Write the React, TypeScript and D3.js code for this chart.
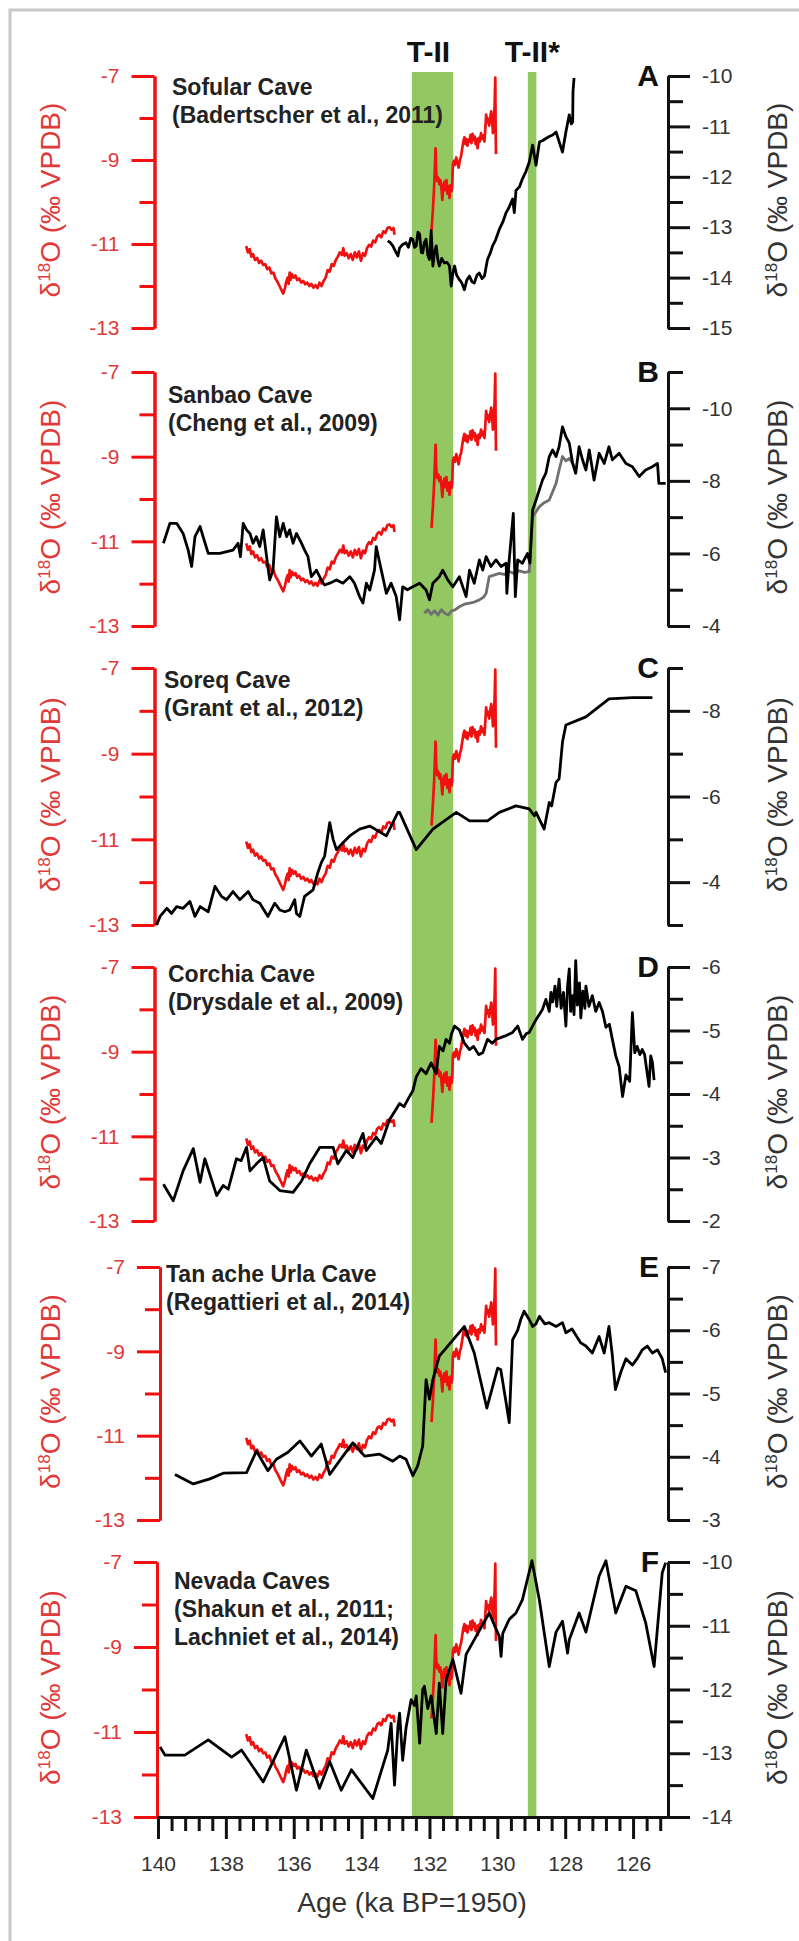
import React, { useEffect, useRef } from 'react';
import * as d3 from 'd3';

type Pt = [number, number];

const FONT = '"Liberation Sans", Arial, Helvetica, sans-serif';
const RED = '#f01010';
const RED_TEXT = '#e03a3a';

// age axis (ka BP)
const ageTicks = [140, 138, 136, 134, 132, 130, 128, 126];
const leftTicks = [-7, -8, -9, -10, -11, -12, -13];
const leftLabels = [-7, -9, -11, -13];
const bandT2: Pt = [132.52, 131.3];
const bandT2star: Pt = [129.1, 128.85];

// reference red record (left axis), two segments
const redEarly: Pt[] = [[137.40,-11.05],[137.35,-11.20],[137.30,-11.12],[137.25,-11.30],[137.20,-11.24],[137.14,-11.38],[137.08,-11.33],[137.02,-11.45],[136.96,-11.40],[136.90,-11.50],[136.84,-11.48],[136.78,-11.60],[136.72,-11.56],[136.66,-11.70],[136.60,-11.68],[136.54,-11.82],[136.48,-11.90],[136.42,-12.00],[136.36,-12.10],[136.31,-12.18],[136.26,-12.05],[136.22,-11.90],[136.18,-11.80],[136.15,-11.95],[136.12,-11.68],[136.09,-11.85],[136.05,-11.72],[136.00,-11.80],[135.95,-11.75],[135.90,-11.86],[135.84,-11.82],[135.78,-11.92],[135.72,-11.88],[135.66,-11.96],[135.60,-11.92],[135.54,-12.00],[135.48,-11.95],[135.42,-12.04],[135.36,-11.98],[135.30,-12.05],[135.24,-11.92],[135.18,-12.00],[135.12,-11.88],[135.06,-11.80],[135.00,-11.62],[134.94,-11.66],[134.88,-11.48],[134.82,-11.52],[134.76,-11.38],[134.70,-11.30],[134.64,-11.20],[134.58,-11.26],[134.54,-11.10],[134.50,-11.28],[134.44,-11.22],[134.38,-11.34],[134.32,-11.24],[134.26,-11.38],[134.20,-11.20],[134.14,-11.32],[134.08,-11.18],[134.02,-11.40],[133.96,-11.22],[133.90,-11.28],[133.84,-11.10],[133.78,-11.02],[133.72,-11.06],[133.66,-10.92],[133.60,-10.96],[133.54,-10.82],[133.48,-10.78],[133.42,-10.84],[133.36,-10.70],[133.30,-10.74],[133.24,-10.62],[133.18,-10.60],[133.12,-10.66],[133.06,-10.62],[133.03,-10.78]];
const redLate: Pt[] = [[131.94,-10.68],[131.90,-10.20],[131.86,-9.60],[131.82,-8.72],[131.80,-9.30],[131.77,-9.50],[131.74,-9.42],[131.71,-9.58],[131.68,-9.48],[131.65,-9.66],[131.62,-9.95],[131.59,-9.60],[131.56,-9.52],[131.53,-9.72],[131.50,-9.48],[131.47,-9.80],[131.44,-9.62],[131.41,-9.90],[131.38,-9.60],[131.35,-9.74],[131.33,-9.62],[131.31,-9.10],[131.28,-9.02],[131.25,-9.12],[131.21,-8.94],[131.18,-9.06],[131.14,-9.18],[131.10,-8.98],[131.07,-8.92],[131.03,-8.70],[131.00,-8.55],[130.97,-8.46],[130.94,-8.62],[130.91,-8.50],[130.88,-8.66],[130.85,-8.52],[130.82,-8.56],[130.79,-8.40],[130.76,-8.60],[130.73,-8.38],[130.70,-8.52],[130.67,-8.44],[130.64,-8.62],[130.61,-8.50],[130.58,-8.72],[130.55,-8.48],[130.52,-8.56],[130.48,-8.36],[130.45,-8.50],[130.42,-8.42],[130.38,-8.56],[130.35,-8.20],[130.33,-7.92],[130.30,-8.10],[130.27,-8.02],[130.24,-8.18],[130.21,-8.00],[130.18,-7.84],[130.15,-8.10],[130.13,-8.36],[130.11,-8.20],[130.08,-7.70],[130.06,-7.04],[130.05,-8.20],[130.04,-8.86]];

const sofularBlack: Pt[] = [[133.23,-13.27],[133.16,-13.30],[133.08,-13.37],[133.00,-13.48],[132.93,-13.57],[132.88,-13.41],[132.80,-13.35],[132.69,-13.31],[132.62,-13.40],[132.55,-13.22],[132.49,-13.24],[132.44,-13.40],[132.39,-13.37],[132.34,-13.10],[132.29,-13.14],[132.24,-13.50],[132.20,-13.51],[132.15,-13.30],[132.10,-13.24],[132.05,-13.55],[132.00,-13.64],[131.95,-13.07],[131.90,-13.77],[131.85,-13.50],[131.80,-13.37],[131.75,-13.66],[131.71,-13.77],[131.64,-13.62],[131.56,-13.71],[131.48,-13.70],[131.41,-13.77],[131.36,-14.17],[131.31,-13.90],[131.26,-13.77],[131.20,-13.95],[131.12,-14.04],[131.05,-14.10],[130.97,-14.24],[130.90,-14.05],[130.82,-13.97],[130.75,-14.08],[130.68,-14.11],[130.60,-13.95],[130.53,-13.91],[130.45,-14.02],[130.38,-13.97],[130.29,-13.64],[130.20,-13.50],[130.14,-13.37],[130.05,-13.25],[129.94,-13.04],[129.84,-12.90],[129.74,-12.71],[129.65,-12.60],[129.55,-12.44],[129.50,-12.71],[129.45,-12.27],[129.35,-12.20],[129.26,-12.04],[129.16,-11.90],[129.06,-11.71],[128.96,-11.37],[128.86,-11.77],[128.76,-11.31],[128.66,-11.28],[128.57,-11.24],[128.47,-11.20],[128.37,-11.17],[128.27,-11.11],[128.18,-11.30],[128.08,-11.51],[127.98,-11.11],[127.88,-10.77],[127.82,-10.95],[127.78,-10.91],[127.77,-10.31],[127.74,-10.04]];

const sanbaoBlack: Pt[] = [[139.84,-6.28],[139.65,-6.83],[139.45,-6.83],[139.26,-6.55],[139.11,-6.09],[139.01,-5.64],[138.91,-6.46],[138.76,-6.74],[138.67,-6.46],[138.52,-6.00],[138.18,-6.00],[137.79,-6.09],[137.64,-6.28],[137.57,-5.91],[137.49,-6.83],[137.39,-6.65],[137.29,-6.55],[137.20,-6.28],[137.10,-6.46],[137.00,-6.19],[136.90,-6.65],[136.80,-5.91],[136.71,-5.27],[136.61,-5.54],[136.51,-7.01],[136.41,-6.46],[136.31,-6.83],[136.21,-6.46],[136.12,-6.65],[136.02,-6.28],[135.92,-6.55],[135.77,-6.28],[135.68,-6.09],[135.58,-5.91],[135.48,-5.36],[135.33,-5.54],[135.19,-5.27],[135.09,-5.13],[134.94,-5.18],[134.74,-5.27],[134.55,-5.18],[134.35,-5.36],[134.21,-5.18],[134.06,-4.81],[133.96,-4.63],[133.86,-5.18],[133.76,-4.99],[133.62,-5.54],[133.57,-6.19],[133.42,-5.54],[133.27,-4.90],[133.13,-5.18],[132.98,-4.81],[132.88,-4.17],[132.79,-5.08],[132.65,-5.00],[132.49,-5.08],[132.29,-5.18],[132.10,-4.99],[132.00,-4.72],[131.90,-5.18],[131.71,-5.36],[131.61,-5.54],[131.46,-5.27],[131.31,-5.08],[131.12,-5.36],[130.92,-4.81],[130.82,-5.54],[130.68,-5.18],[130.53,-5.82],[130.43,-5.54],[130.33,-5.91],[130.19,-5.64],[130.04,-5.82],[129.89,-5.64],[129.74,-5.73],[129.72,-4.90],[129.65,-5.82],[129.53,-7.10],[129.47,-4.81],[129.40,-5.82],[129.26,-5.73],[129.11,-6.00],[129.04,-5.73],[128.96,-7.20],[128.86,-7.47],[128.67,-8.02],[128.57,-8.21],[128.47,-8.67],[128.37,-8.85],[128.27,-8.67],[128.18,-8.94],[128.08,-9.49],[127.98,-9.22],[127.88,-9.04],[127.78,-8.48],[127.69,-8.21],[127.59,-8.94],[127.49,-8.58],[127.39,-8.30],[127.29,-8.85],[127.15,-8.02],[127.00,-8.76],[126.85,-8.48],[126.71,-8.94],[126.61,-8.58],[126.41,-8.76],[126.21,-8.48],[126.02,-8.39],[125.82,-8.12],[125.63,-8.30],[125.43,-8.39],[125.28,-8.48],[125.24,-7.93],[125.04,-7.93]];
const sanbaoGray: Pt[] = [[132.15,-4.35],[132.05,-4.45],[131.95,-4.32],[131.85,-4.42],[131.75,-4.30],[131.65,-4.45],[131.55,-4.35],[131.45,-4.30],[131.35,-4.42],[131.26,-4.44],[131.12,-4.53],[130.97,-4.60],[130.82,-4.63],[130.68,-4.66],[130.53,-4.72],[130.40,-4.80],[130.33,-4.90],[130.24,-5.36],[130.10,-5.40],[129.94,-5.45],[129.80,-5.42],[129.65,-5.50],[129.50,-5.45],[129.35,-5.52],[129.20,-5.48],[129.06,-5.50],[128.96,-7.01],[128.86,-7.15],[128.76,-7.29],[128.62,-7.40],[128.47,-7.47],[128.37,-7.70],[128.27,-7.93],[128.18,-8.30],[128.08,-8.67],[127.98,-8.55],[127.88,-8.62],[127.78,-8.48],[127.74,-8.39]];

const soreqBlack: Pt[] = [[140.04,-3.00],[139.94,-3.20],[139.74,-3.39],[139.60,-3.27],[139.45,-3.43],[139.26,-3.39],[139.06,-3.55],[138.91,-3.20],[138.76,-3.43],[138.52,-3.31],[138.32,-3.90],[138.13,-3.67],[137.98,-3.59],[137.79,-3.78],[137.59,-3.59],[137.34,-3.78],[137.20,-3.59],[137.00,-3.51],[136.76,-3.20],[136.56,-3.51],[136.41,-3.35],[136.26,-3.31],[136.12,-3.35],[135.97,-3.59],[135.92,-3.27],[135.82,-3.20],[135.68,-3.67],[135.43,-3.82],[135.29,-4.22],[135.19,-4.45],[135.09,-4.61],[134.94,-5.39],[134.84,-5.00],[134.74,-4.76],[134.55,-4.92],[134.35,-5.08],[134.06,-5.24],[133.76,-5.31],[133.27,-5.08],[132.93,-5.63],[132.88,-5.63],[132.39,-4.76],[131.90,-5.24],[131.21,-5.63],[130.82,-5.43],[130.29,-5.43],[129.94,-5.63],[129.45,-5.78],[129.06,-5.71],[128.91,-5.55],[128.86,-5.63],[128.62,-5.24],[128.47,-5.86],[128.40,-5.78],[128.27,-6.33],[128.18,-6.41],[128.08,-7.27],[127.98,-7.67],[127.39,-7.86],[126.71,-8.28],[126.02,-8.31],[125.43,-8.31]];

const corchiaBlack: Pt[] = [[139.84,-2.58],[139.55,-2.32],[139.26,-2.79],[138.96,-3.14],[138.76,-2.61],[138.62,-2.98],[138.27,-2.40],[138.08,-2.56],[137.93,-2.50],[137.69,-2.98],[137.55,-2.95],[137.39,-3.16],[137.29,-2.79],[137.10,-2.90],[136.90,-3.00],[136.71,-2.63],[136.41,-2.48],[136.02,-2.45],[135.77,-2.63],[135.53,-2.90],[135.23,-3.16],[134.84,-3.16],[134.70,-2.90],[134.45,-3.11],[134.26,-3.00],[133.96,-3.38],[133.86,-3.11],[133.57,-3.32],[133.42,-3.22],[133.18,-3.59],[132.88,-3.85],[132.75,-3.80],[132.60,-3.95],[132.49,-4.05],[132.39,-4.27],[132.25,-4.40],[132.10,-4.32],[131.95,-4.49],[131.80,-4.32],[131.71,-4.75],[131.60,-4.68],[131.51,-4.86],[131.41,-4.80],[131.35,-4.95],[131.26,-5.07],[131.12,-5.01],[130.97,-4.80],[130.82,-4.70],[130.70,-4.75],[130.55,-4.62],[130.43,-4.65],[130.29,-4.86],[130.15,-4.80],[130.04,-4.86],[129.85,-4.90],[129.74,-4.92],[129.55,-4.97],[129.40,-5.07],[129.26,-4.86],[129.15,-4.95],[129.06,-4.97],[128.86,-5.17],[128.67,-5.33],[128.57,-5.49],[128.47,-5.30],[128.42,-5.60],[128.37,-5.45],[128.30,-5.70],[128.25,-5.38],[128.18,-5.81],[128.12,-5.35],[128.05,-5.60],[127.98,-5.07],[127.93,-5.70],[127.88,-5.97],[127.84,-5.30],[127.78,-5.55],[127.74,-5.25],[127.69,-6.10],[127.64,-5.40],[127.58,-5.75],[127.54,-5.20],[127.48,-5.62],[127.42,-5.35],[127.39,-5.70],[127.30,-5.38],[127.20,-5.55],[127.10,-5.30],[127.00,-5.44],[126.90,-5.30],[126.80,-5.05],[126.70,-5.10],[126.61,-4.86],[126.51,-4.60],[126.41,-4.43],[126.31,-3.96],[126.21,-4.30],[126.10,-4.20],[126.02,-5.28],[125.95,-4.65],[125.88,-4.75],[125.80,-4.62],[125.73,-4.70],[125.66,-4.62],[125.53,-4.12],[125.48,-4.60],[125.43,-4.50],[125.38,-4.22]];

const tanacheBlack: Pt[] = [[139.50,-3.72],[138.96,-3.57],[138.47,-3.65],[138.08,-3.74],[137.39,-3.75],[137.10,-4.09],[136.76,-3.78],[136.51,-3.96],[136.17,-4.07],[135.82,-4.25],[135.48,-4.01],[135.19,-4.20],[134.94,-3.72],[134.55,-4.01],[134.26,-4.22],[133.91,-4.01],[133.47,-4.04],[133.08,-3.93],[132.88,-4.01],[132.69,-3.96],[132.49,-3.70],[132.35,-3.85],[132.20,-4.17],[132.10,-5.22],[132.00,-4.91],[131.90,-5.22],[131.71,-5.59],[130.97,-6.06],[130.68,-5.64],[130.31,-4.77],[129.99,-5.40],[129.90,-5.38],[129.74,-4.85],[129.65,-4.54],[129.55,-5.85],[129.40,-6.00],[129.31,-6.17],[129.21,-6.30],[129.06,-6.17],[128.96,-6.06],[128.86,-6.10],[128.76,-6.22],[128.60,-6.10],[128.47,-6.12],[128.27,-6.06],[128.08,-6.12],[127.98,-5.96],[127.80,-6.02],[127.54,-5.80],[127.39,-5.75],[127.20,-5.64],[127.00,-5.90],[126.85,-5.64],[126.71,-6.06],[126.61,-5.60],[126.52,-5.06],[126.36,-5.34],[126.21,-5.55],[126.02,-5.45],[125.88,-5.55],[125.73,-5.69],[125.58,-5.75],[125.43,-5.64],[125.28,-5.69],[125.14,-5.55],[125.04,-5.33]];

const nevadaBlack: Pt[] = [[139.94,-12.90],[139.79,-13.03],[139.21,-13.03],[138.52,-12.79],[137.83,-13.06],[137.54,-12.95],[136.90,-13.45],[136.26,-12.74],[135.92,-13.58],[135.63,-12.95],[135.24,-13.55],[134.94,-13.13],[134.60,-13.58],[134.30,-13.26],[133.67,-13.71],[133.23,-12.95],[133.13,-12.53],[133.03,-13.50],[132.93,-12.58],[132.88,-12.37],[132.79,-13.11],[132.69,-12.60],[132.54,-12.16],[132.44,-12.25],[132.39,-12.10],[132.29,-12.84],[132.20,-12.00],[132.15,-11.95],[132.05,-12.30],[131.95,-12.10],[131.80,-12.69],[131.71,-11.90],[131.61,-12.69],[131.51,-11.85],[131.31,-11.53],[131.07,-12.06],[130.92,-11.45],[130.63,-11.17],[130.24,-10.80],[129.94,-11.17],[129.89,-11.48],[129.84,-11.12],[129.65,-10.90],[129.45,-10.80],[129.26,-10.59],[128.98,-9.98],[128.76,-10.60],[128.47,-11.64],[128.27,-11.10],[128.08,-10.93],[127.93,-11.43],[127.88,-11.22],[127.59,-10.80],[127.39,-11.10],[127.00,-10.22],[126.80,-9.98],[126.51,-10.80],[126.21,-10.38],[125.92,-10.45],[125.63,-10.95],[125.38,-11.64],[125.14,-10.17],[125.04,-10.01]];

const panels = [
  { letter: 'A', top: 76, bottom: 328, axisX: 154.5, rTop: -10, rBottom: -15, step: 0.5, every: 1, title: ['Sofular Cave', '(Badertscher et al., 2011)'], tx: 172, ty: 19, black: sofularBlack, gray: null as Pt[] | null },
  { letter: 'B', top: 372, bottom: 626, axisX: 154.5, rTop: -11, rBottom: -4, step: 1, every: 2, title: ['Sanbao Cave', '(Cheng et al., 2009)'], tx: 168, ty: 31, black: sanbaoBlack, gray: sanbaoGray },
  { letter: 'C', top: 668, bottom: 925, axisX: 154.5, rTop: -9, rBottom: -3, step: 1, every: 2, title: ['Soreq Cave', '(Grant et al., 2012)'], tx: 164, ty: 20, black: soreqBlack, gray: null },
  { letter: 'D', top: 967, bottom: 1221, axisX: 154.5, rTop: -6, rBottom: -2, step: 0.5, every: 1, title: ['Corchia Cave', '(Drysdale et al., 2009)'], tx: 168, ty: 15, black: corchiaBlack, gray: null },
  { letter: 'E', top: 1267, bottom: 1520, axisX: 160, rTop: -7, rBottom: -3, step: 0.5, every: 1, title: ['Tan ache Urla Cave', '(Regattieri et al., 2014)'], tx: 166, ty: 15, black: tanacheBlack, gray: null },
  { letter: 'F', top: 1562, bottom: 1817, axisX: 157, rTop: -10, rBottom: -14, step: 0.5, every: 1, title: ['Nevada Caves', '(Shakun et al., 2011;', 'Lachniet et al., 2014)'], tx: 174, ty: 27, black: nevadaBlack, gray: null },
];

const isMult = (v: number, m: number) => Math.abs(v / m - Math.round(v / m)) < 1e-6;

function addTitle(g: any, x: number, y: number, color: string) {
  const t = g.append('text')
    .attr('transform', `translate(${x} ${y}) rotate(-90)`)
    .attr('text-anchor', 'middle')
    .attr('font-size', 28)
    .attr('fill', color);
  t.append('tspan').text('δ');
  t.append('tspan').attr('font-size', 17).attr('dy', -10).text('18');
  t.append('tspan').attr('dy', 10).text('O (‰ VPDB)');
}

export default function App() {
  const ref = useRef<SVGSVGElement>(null);

  useEffect(() => {
    const svg = d3.select(ref.current);
    svg.selectAll('*').remove();
    svg.attr('font-family', FONT);

    const x = d3.scaleLinear().domain([140, 125]).range([158, 667]);

    svg.append('rect').attr('x', 10).attr('y', 10).attr('width', 840).attr('height', 2000)
      .attr('fill', 'none').attr('stroke', '#c8c8c8').attr('stroke-width', 3);

    [bandT2, bandT2star].forEach(b => {
      svg.append('rect')
        .attr('x', x(b[0])).attr('width', x(b[1]) - x(b[0]))
        .attr('y', 72).attr('height', 1817 - 72)
        .attr('fill', '#93c762');
    });

    svg.append('text').attr('x', x(bandT2[0]) - 5).attr('y', 62)
      .attr('font-size', 30).attr('font-weight', 'bold').attr('fill', '#111').text('T-II');
    svg.append('text').attr('x', x(bandT2star[0]) - 23).attr('y', 62)
      .attr('font-size', 30).attr('font-weight', 'bold').attr('fill', '#111').text('T-II*');

    panels.forEach(p => {
      const g = svg.append('g');
      const yL = d3.scaleLinear().domain([-13, -7]).range([p.bottom, p.top]);
      const yR = d3.scaleLinear().domain([p.rBottom, p.rTop]).range([p.bottom, p.top]);

      // left (red) axis
      const la = g.append('g').attr('transform', `translate(${p.axisX},0)`);
      la.call(d3.axisLeft(yL).tickValues(leftTicks.filter(v => !leftLabels.includes(v))).tickSize(15).tickSizeOuter(0).tickFormat(() => ''));
      la.append('g').call(d3.axisLeft(yL).tickValues(leftLabels).tickSize(23).tickSizeOuter(0).tickPadding(12).tickFormat(d => String(d)));
      la.selectAll('path.domain').attr('stroke', RED).attr('stroke-width', 3);
      la.selectAll('line').attr('stroke', RED).attr('stroke-width', 3);
      la.selectAll('text').attr('fill', RED_TEXT).attr('font-size', 21).attr('font-family', FONT);
      addTitle(g, 60, (p.top + p.bottom) / 2 - 2, RED_TEXT);

      // right (black) axis
      const rTicks = d3.range(p.rTop, p.rBottom + (p.rBottom > p.rTop ? 0.01 : -0.01), p.rBottom > p.rTop ? p.step : -p.step);
      const ra = g.append('g').attr('transform', 'translate(668,0)');
      ra.call(d3.axisRight(yR).tickValues(rTicks.filter(v => !isMult(v, p.every))).tickSize(15).tickSizeOuter(0).tickFormat(() => ''));
      ra.append('g').call(d3.axisRight(yR).tickValues(rTicks.filter(v => isMult(v, p.every))).tickSize(22).tickSizeOuter(0).tickPadding(12).tickFormat(d => String(d)));
      ra.selectAll('path.domain').attr('stroke', '#111').attr('stroke-width', 3);
      ra.selectAll('line').attr('stroke', '#111').attr('stroke-width', 3);
      ra.selectAll('text').attr('fill', '#333').attr('font-size', 21).attr('font-family', FONT);
      addTitle(g, 787, (p.top + p.bottom) / 2 - 2, '#333');

      // panel letter and title
      g.append('text').attr('x', 659).attr('y', p.top + 10).attr('text-anchor', 'end')
        .attr('font-size', 30).attr('font-weight', 'bold').attr('fill', '#111').text(p.letter);
      p.title.forEach((s, i) => {
        g.append('text').attr('x', p.tx).attr('y', p.top + p.ty + i * 28)
          .attr('font-size', 23).attr('font-weight', 'bold').attr('fill', '#222').text(s);
      });

      // series
      const redLine = d3.line<Pt>().x(d => x(d[0])).y(d => yL(d[1]));
      const rightLine = d3.line<Pt>().x(d => x(d[0])).y(d => yR(d[1]));
      [redEarly, redLate].forEach(seg => {
        g.append('path').attr('d', redLine(seg)).attr('fill', 'none')
          .attr('stroke', RED).attr('stroke-width', 2.7).attr('stroke-linejoin', 'round');
      });
      if (p.gray) {
        g.append('path').attr('d', rightLine(p.gray)).attr('fill', 'none')
          .attr('stroke', '#707070').attr('stroke-width', 2.8).attr('stroke-linejoin', 'round');
      }
      g.append('path').attr('d', rightLine(p.black)).attr('fill', 'none')
        .attr('stroke', '#000').attr('stroke-width', 2.8).attr('stroke-linejoin', 'round');
    });

    // age axis
    const xa = svg.append('g').attr('transform', 'translate(0,1817)');
    xa.call(d3.axisBottom(x).tickValues(d3.range(140, 125.1, -0.4).filter(v => !isMult(v, 2))).tickSize(14).tickSizeOuter(0).tickFormat(() => ''));
    xa.append('g').call(d3.axisBottom(x).tickValues(ageTicks).tickSize(22).tickSizeOuter(0).tickPadding(17).tickFormat(d => String(d)));
    xa.selectAll('path.domain').attr('stroke', '#111').attr('stroke-width', 3);
    xa.selectAll('line').attr('stroke', '#111').attr('stroke-width', 3);
    xa.selectAll('text').attr('fill', '#333').attr('font-size', 21).attr('font-family', FONT);

    svg.append('text').attr('x', 412).attr('y', 1912).attr('text-anchor', 'middle')
      .attr('font-size', 28).attr('fill', '#333').text('Age (ka BP=1950)');
  }, []);

  return (
    <svg ref={ref} width={799} height={1941} viewBox="0 0 799 1941"
      style={{ position: 'absolute', left: 0, top: 0, background: '#fff' }} />
  );
}
